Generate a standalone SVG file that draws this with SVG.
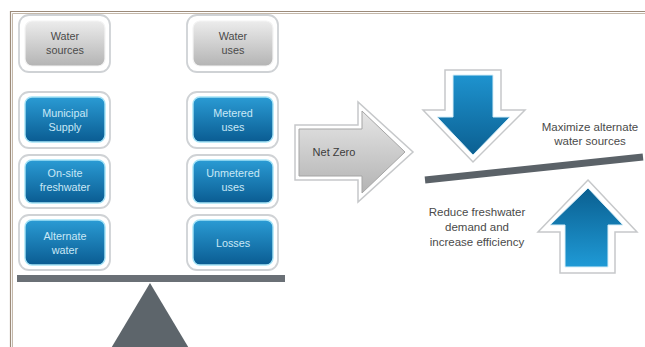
<svg xmlns="http://www.w3.org/2000/svg" width="645" height="347" viewBox="0 0 645 347">
<defs>
<linearGradient id="gGray" x1="0" y1="0" x2="0" y2="1">
<stop offset="0" stop-color="#ececec"/><stop offset="1" stop-color="#b4b4b4"/>
</linearGradient>
<linearGradient id="gBlue" x1="0" y1="0" x2="0" y2="1">
<stop offset="0" stop-color="#2a9bd4"/><stop offset="1" stop-color="#0a5c92"/>
</linearGradient>
<linearGradient id="gDown" x1="0" y1="0" x2="0" y2="1">
<stop offset="0" stop-color="#1e93cf"/><stop offset="1" stop-color="#0b5f91"/>
</linearGradient>
<linearGradient id="gUp" x1="0" y1="0" x2="0" y2="1">
<stop offset="0" stop-color="#0a5f90"/><stop offset="1" stop-color="#1f9ad6"/>
</linearGradient>
<linearGradient id="gArrow" x1="0" y1="0" x2="0" y2="1">
<stop offset="0" stop-color="#e6e6e6"/><stop offset="1" stop-color="#b3b3b3"/>
</linearGradient>
</defs>
<style>
.outer{fill:#ffffff;stroke:#cfd2d5;stroke-width:1.8}
.ig{fill:url(#gGray);stroke:#f4f4f4;stroke-width:1.2}
.ib{fill:url(#gBlue);stroke:#a6e3f6;stroke-width:1.4}
.tg{font-family:"Liberation Sans",Arial,sans-serif;font-size:10.8px;fill:#4a4a4a;text-anchor:middle}
.tb{font-family:"Liberation Sans",Arial,sans-serif;font-size:10.8px;fill:#c9e8f6;text-anchor:middle}
.tr{font-family:"Liberation Sans",Arial,sans-serif;font-size:11.5px;fill:#4a4a4a;text-anchor:middle}
.aout{fill:#ffffff;stroke:#c6c8ca;stroke-width:1.5;stroke-linejoin:miter}
</style>
<rect width="645" height="347" fill="#ffffff"/>
<g id="frame">
<path d="M10.5,347 V11.5 H645" fill="none" stroke="#9c8b7a" stroke-width="1.2"/>
<path d="M12.5,347 V13.5 H645" fill="none" stroke="#c4b8aa" stroke-width="1"/>
</g>
<g id="water-sources">
<rect class="outer" x="19" y="15" width="91" height="57" rx="10"/>
<rect class="ig" x="25" y="21" width="80" height="45" rx="7"/>
<text class="tg" x="65" y="40">Water</text><text class="tg" x="65" y="54">sources</text>
</g>
<g id="water-uses">
<rect class="outer" x="187" y="15" width="91" height="57" rx="10"/>
<rect class="ig" x="193" y="21" width="80" height="45" rx="7"/>
<text class="tg" x="233" y="40">Water</text><text class="tg" x="233" y="54">uses</text>
</g>
<g id="municipal">
<rect class="outer" x="19" y="92" width="91" height="56" rx="10"/>
<rect class="ib" x="25" y="97" width="80" height="45" rx="7"/>
<text class="tb" x="65" y="117">Municipal</text><text class="tb" x="65" y="131">Supply</text>
</g>
<g id="metered">
<rect class="outer" x="187" y="92" width="91" height="56" rx="10"/>
<rect class="ib" x="193" y="97" width="80" height="45" rx="7"/>
<text class="tb" x="233" y="117">Metered</text><text class="tb" x="233" y="131">uses</text>
</g>
<g id="onsite">
<rect class="outer" x="19" y="155" width="91" height="53" rx="10"/>
<rect class="ib" x="25" y="160" width="80" height="43" rx="7"/>
<text class="tb" x="65" y="177">On-site</text><text class="tb" x="65" y="191">freshwater</text>
</g>
<g id="unmetered">
<rect class="outer" x="187" y="155" width="91" height="53" rx="10"/>
<rect class="ib" x="193" y="160" width="80" height="43" rx="7"/>
<text class="tb" x="233" y="177">Unmetered</text><text class="tb" x="233" y="191">uses</text>
</g>
<g id="alternate">
<rect class="outer" x="19" y="215" width="91" height="55" rx="10"/>
<rect class="ib" x="25" y="220" width="80" height="45" rx="7"/>
<text class="tb" x="65" y="240">Alternate</text><text class="tb" x="65" y="254">water</text>
</g>
<g id="losses">
<rect class="outer" x="187" y="215" width="91" height="55" rx="10"/>
<rect class="ib" x="193" y="220" width="80" height="45" rx="7"/>
<text class="tb" x="233" y="247">Losses</text>
</g>
<g id="balance">
<rect x="17" y="275" width="268" height="7" fill="#6a7076"/>
<polygon points="150,283 110,350 190,350" fill="#5d656b"/>
</g>
<g id="net-zero">
<polygon class="aout" points="295,125 358,125 358,102 413,152 358,202 358,180 295,180"/>
<polygon points="299,129 362,129 362,111 405,152 362,193 362,176 299,176" fill="url(#gArrow)" stroke="#a5a5a5" stroke-width="1"/>
<text class="tr" x="334" y="156" style="fill:#3c3c3c;font-size:11px">Net Zero</text>
</g>
<g id="tilted">
<line x1="425" y1="180" x2="643" y2="157" stroke="#5b6268" stroke-width="7"/>
</g>
<g id="down-arrow">
<polygon class="aout" points="445,70 501,70 501,110 525,110 473,162 423,110 445,110"/>
<polygon points="453,75 493,75 493,117 510,117 473,155 437,117 453,117" fill="url(#gDown)" stroke="#d6eef8" stroke-width="1"/>
</g>
<g id="up-arrow">
<polygon class="aout" points="588,180 637,232 615,232 615,273 560,273 560,232 538,232"/>
<polygon points="588,188 623,225 608,225 608,267 565,267 565,225 550,225" fill="url(#gUp)" stroke="#d6eef8" stroke-width="1"/>
</g>
<g id="labels">
<text class="tr" x="590" y="131">Maximize alternate</text>
<text class="tr" x="590" y="145">water sources</text>
<text class="tr" x="477" y="216">Reduce freshwater</text>
<text class="tr" x="477" y="231">demand and</text>
<text class="tr" x="477" y="246">increase efficiency</text>
</g>
</svg>
